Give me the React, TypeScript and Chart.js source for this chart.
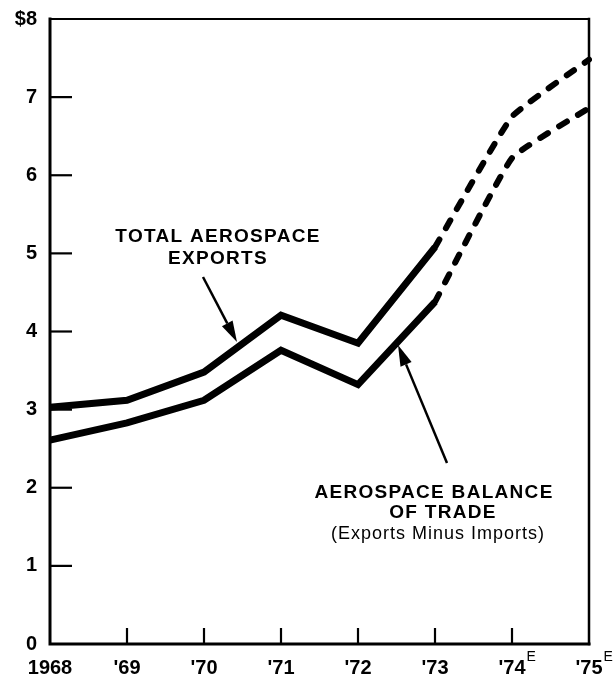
import React, { useEffect, useRef } from "react";
import { Chart, registerables } from "chart.js";

Chart.register(...registerables);

const years = ["1968", "'69", "'70", "'71", "'72", "'73", "'74", "'75"];
const estimatedYears = ["'74", "'75"];
const exportsActual = [3.03, 3.12, 3.48, 4.21, 3.85, 5.08, null, null];
const exportsEstimate = [null, null, null, null, null, 5.08, 6.75, 7.48];
const balanceActual = [2.61, 2.83, 3.12, 3.76, 3.32, 4.38, null, null];
const balanceEstimate = [null, null, null, null, null, 4.38, 6.22, 6.86];
const yTicks = [0, 1, 2, 3, 4, 5, 6, 7, 8];

const FONT = "'Liberation Sans', Arial, Helvetica, sans-serif";

const decorPlugin = {
  id: "decor",
  afterDraw(chart: any) {
    const { ctx, chartArea } = chart;
    const { left, right, top, bottom } = chartArea;
    const xs = chart.scales.x;
    const ys = chart.scales.y;
    ctx.save();
    ctx.strokeStyle = "#000";
    ctx.lineCap = "square";
    // frame
    ctx.lineWidth = 3;
    ctx.beginPath();
    ctx.moveTo(left, top);
    ctx.lineTo(left, bottom);
    ctx.lineTo(right, bottom);
    ctx.stroke();
    ctx.lineWidth = 2.5;
    ctx.beginPath();
    ctx.moveTo(right, bottom);
    ctx.lineTo(right, top);
    ctx.stroke();
    ctx.lineWidth = 2;
    ctx.beginPath();
    ctx.moveTo(left, top);
    ctx.lineTo(right, top);
    ctx.stroke();
    // inner ticks
    ctx.lineWidth = 2.2;
    ctx.lineCap = "butt";
    yTicks.forEach((v) => {
      if (v === 0 || v === 8) return;
      const y = ys.getPixelForValue(v);
      ctx.beginPath();
      ctx.moveTo(left, y);
      ctx.lineTo(left + 22, y);
      ctx.stroke();
    });
    years.forEach((_, i) => {
      if (i === 0 || i === years.length - 1) return;
      const x = xs.getPixelForValue(i);
      ctx.beginPath();
      ctx.moveTo(x, bottom);
      ctx.lineTo(x, bottom - 16);
      ctx.stroke();
    });
    // superscript E
    ctx.fillStyle = "#000";
    years.forEach((lab, i) => {
      if (!estimatedYears.includes(lab)) return;
      ctx.font = `bold 20px ${FONT}`;
      const w = ctx.measureText(lab).width;
      const x = xs.getPixelForValue(i) + w / 2 + 1;
      ctx.font = `14px ${FONT}`;
      ctx.textAlign = "left";
      ctx.textBaseline = "middle";
      ctx.fillText("E", x, bottom + 13);
    });
    // annotations
    const arrow = (x1: number, y1: number, x2: number, y2: number) => {
      const ang = Math.atan2(y2 - y1, x2 - x1);
      const hl = 21;
      const hw = 6;
      const bx = x2 - hl * Math.cos(ang);
      const by = y2 - hl * Math.sin(ang);
      ctx.lineWidth = 2.5;
      ctx.beginPath();
      ctx.moveTo(x1, y1);
      ctx.lineTo(bx, by);
      ctx.stroke();
      ctx.beginPath();
      ctx.moveTo(x2, y2);
      ctx.lineTo(bx + hw * Math.sin(ang), by - hw * Math.cos(ang));
      ctx.lineTo(bx - hw * Math.sin(ang), by + hw * Math.cos(ang));
      ctx.closePath();
      ctx.fill();
    };
    ctx.textAlign = "center";
    ctx.textBaseline = "middle";
    ctx.font = `bold 19px ${FONT}`;
    (ctx as any).letterSpacing = "1.3px";
    ctx.fillText("TOTAL AEROSPACE", 218, 237);
    ctx.fillText("EXPORTS", 218, 259);
    ctx.fillText("AEROSPACE BALANCE", 434, 493);
    ctx.fillText("OF TRADE", 443, 513);
    (ctx as any).letterSpacing = "1px";
    ctx.font = `18px ${FONT}`;
    ctx.fillText("(Exports Minus Imports)", 438, 534);
    (ctx as any).letterSpacing = "0px";
    arrow(203, 277, 237, 342);
    arrow(447, 463, 398, 345);
    ctx.restore();
  },
};

export default function App() {
  const ref = useRef<HTMLCanvasElement | null>(null);
  useEffect(() => {
    if (!ref.current) return;
    const common = {
      borderColor: "#000",
      backgroundColor: "#000",
      pointRadius: 0,
      pointHoverRadius: 0,
      fill: false,
      spanGaps: false,
    };
    const chart = new Chart(ref.current, {
      type: "line",
      data: {
        labels: years,
        datasets: [
          { ...common, label: "Total Aerospace Exports", data: exportsActual, borderWidth: 7, tension: 0, borderJoinStyle: "miter" },
          { ...common, label: "Total Aerospace Exports (est.)", data: exportsEstimate, borderWidth: 6, tension: 0.12, borderDash: [9, 13], borderCapStyle: "round" },
          { ...common, label: "Aerospace Balance of Trade", data: balanceActual, borderWidth: 7, tension: 0, borderJoinStyle: "miter" },
          { ...common, label: "Aerospace Balance of Trade (est.)", data: balanceEstimate, borderWidth: 6, tension: 0.12, borderDash: [9, 13], borderCapStyle: "round" },
        ] as any,
      },
      options: {
        responsive: false,
        animation: false,
        layout: { padding: { top: 19, right: 27, left: 0, bottom: 0 } },
        plugins: { legend: { display: false }, tooltip: { enabled: false } },
        scales: {
          x: {
            type: "category",
            offset: false,
            grid: { display: false, drawTicks: false },
            border: { display: false },
            ticks: {
              color: "#000",
              font: { family: FONT, size: 20, weight: "bold" },
              padding: 12,
              maxRotation: 0,
              autoSkip: false,
            },
            afterFit: (s: any) => {
              s.height = 33;
              s.paddingLeft = 0;
              s.paddingRight = 0;
            },
          },
          y: {
            min: 0,
            max: 8,
            grid: { display: false, drawTicks: false },
            border: { display: false },
            ticks: {
              stepSize: 1,
              color: "#000",
              font: { family: FONT, size: 20, weight: "bold" },
              padding: 13,
              callback: (v: any) => (v === 8 ? "$8" : String(v)),
            },
            afterFit: (s: any) => {
              s.width = 50;
              s.paddingTop = 0;
              s.paddingBottom = 0;
            },
          },
        },
      } as any,
      plugins: [decorPlugin],
    });
    return () => chart.destroy();
  }, []);
  return (
    <div style={{ position: "absolute", left: 0, top: 0, width: 616, height: 677, background: "#fff" }}>
      <canvas ref={ref} width={616} height={677} />
    </div>
  );
}
